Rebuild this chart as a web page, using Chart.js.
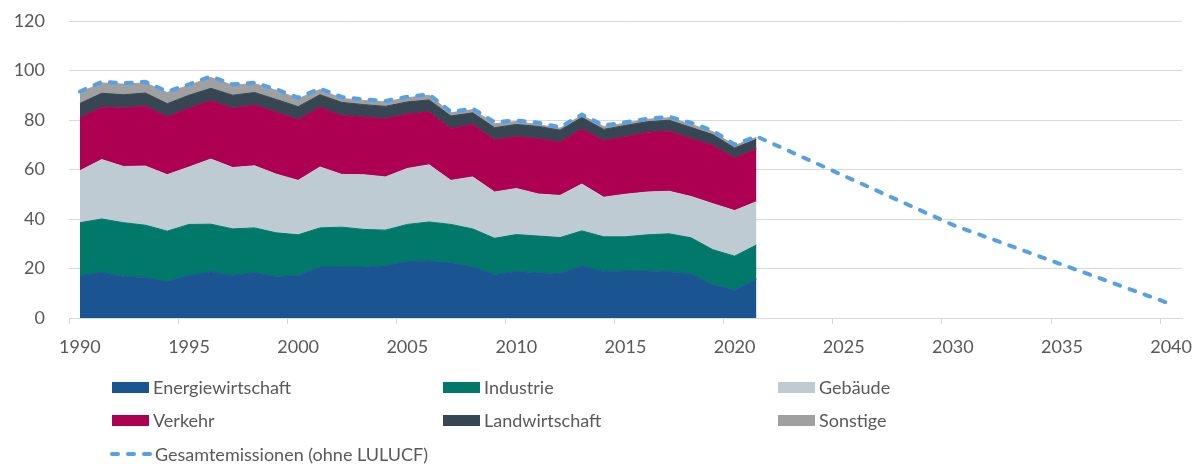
<!DOCTYPE html>
<html lang="de">
<head>
<meta charset="utf-8">
<title>Treibhausgasemissionen</title>
<script src="https://cdn.jsdelivr.net/npm/chart.js@4/dist/chart.umd.min.js"></script>
<style>
  body { margin: 0; background: #fff; font-family: Lato, "Open Sans", sans-serif; }
  #wrap { position: relative; width: 1197px; height: 464px; }
  #legend { position: absolute; left: 0; top: 0; width: 1197px; height: 464px; pointer-events: none; }
  .item { position: absolute; display: flex; align-items: center; height: 24px; color: #595959; font-size: 18px; white-space: nowrap; }
  .box { width: 37px; height: 11px; margin-right: 4px; }
</style>
</head>
<body>
<div id="wrap">
  <canvas id="emChart"></canvas>
  <div id="legend"></div>
</div>
<script>
const years = [];
for (let y = 1990; y <= 2040; y++) years.push(String(y));

// Mio. t CO2-Äquivalente, 1990-2021
const energie = [17.2, 18.4, 16.8, 16.4, 14.8, 17.2, 18.7, 17.3, 18.3, 16.9, 17.1,
  20.6, 20.6, 20.6, 21.1, 22.8, 23.0, 22.2, 20.6, 17.6, 18.8,
  18.3, 17.9, 21.1, 18.8, 19.0, 19.0, 18.7, 17.9, 13.4, 11.2, 15.7];
const industrie = [21.3, 21.6, 21.7, 21.1, 20.3, 20.6, 19.2, 18.7, 18.1, 17.5, 16.5,
  15.8, 16.1, 15.2, 14.4, 15.0, 15.8, 15.6, 15.4, 14.6, 14.9,
  14.8, 14.6, 14.1, 14.0, 13.8, 14.6, 15.3, 14.5, 14.2, 13.8, 13.8];
const gebaeude = [21.0, 24.0, 22.7, 23.9, 22.8, 23.2, 26.3, 24.8, 25.1, 23.7, 22.0,
  24.6, 21.3, 22.1, 21.5, 22.6, 23.1, 17.8, 21.0, 18.7, 18.6,
  17.0, 17.0, 18.9, 16.0, 17.2, 17.3, 17.2, 16.7, 18.6, 18.4, 17.5];
const verkehr = [21.4, 21.2, 23.6, 24.2, 23.4, 23.8, 23.6, 24.0, 24.5, 25.1, 24.6,
  24.2, 23.8, 23.3, 23.5, 22.0, 21.4, 21.0, 21.2, 21.1, 21.0,
  22.3, 21.6, 22.3, 22.9, 23.2, 24.2, 24.3, 23.3, 23.7, 21.2, 21.3];
const landwirtschaft = [5.8, 5.6, 5.4, 5.3, 5.3, 5.2, 5.0, 5.2, 5.1, 5.1, 5.2,
  5.0, 5.3, 5.0, 5.0, 4.9, 4.8, 5.0, 4.7, 4.9, 4.9,
  5.0, 4.8, 4.6, 4.5, 4.6, 4.2, 4.4, 4.6, 4.2, 4.1, 3.9];
const sonstige = [4.4, 4.2, 4.3, 4.1, 4.5, 4.0, 4.4, 4.0, 3.6, 3.7, 3.2,
  2.1, 1.6, 1.7, 1.8, 1.7, 1.9, 1.3, 1.3, 1.6, 1.2,
  0.7, 0.8, 0.9, 1.2, 0.9, 1.0, 1.0, 1.3, 1.2, 1.0, 0.8];
// Gesamtemissionen: Ist-Werte bis 2021, danach Zielpfad (2030, 2040)
const gesamt = [91.5, 95.4, 94.9, 95.4, 91.5, 94.4, 97.6, 94.4, 95.1, 92.4, 89.0,
  92.7, 89.3, 88.3, 87.7, 89.4, 90.4, 83.3, 84.6, 79.1, 79.8,
  78.9, 77.1, 82.2, 77.8, 79.1, 80.5, 81.3, 78.9, 75.7, 70.1, 73.4,
  null, null, null, null, null, null, null, null, 37.6,
  null, null, null, null, null, null, null, null, null, 5.6];

const yTicks = [0, 20, 40, 60, 80, 100, 120];

const sectors = [
  { label: 'Energiewirtschaft', data: energie, color: '#1b5591' },
  { label: 'Industrie', data: industrie, color: '#00796b' },
  { label: 'Gebäude', data: gebaeude, color: '#bfcbd3' },
  { label: 'Verkehr', data: verkehr, color: '#ae0052' },
  { label: 'Landwirtschaft', data: landwirtschaft, color: '#364652' },
  { label: 'Sonstige', data: sonstige, color: '#a0a0a0' }
];
const lineColor = '#57a0e4';

const datasets = [{
  label: 'Gesamtemissionen (ohne LULUCF)',
  data: gesamt,
  stack: 'total',
  borderColor: lineColor,
  borderWidth: 4,
  borderDash: [6, 10],
  borderCapStyle: 'round',
  pointRadius: 0,
  pointHoverRadius: 0,
  spanGaps: true,
  fill: false,
  tension: 0
}];
sectors.forEach((s, i) => {
  datasets.push({
    label: s.label,
    data: s.data,
    stack: 'sektoren',
    backgroundColor: s.color,
    borderColor: s.color,
    borderWidth: 1,
    pointRadius: 0,
    pointHoverRadius: 0,
    fill: i === 0 ? 'origin' : '-1',
    tension: 0
  });
});

const axisFont = { family: 'Lato, "Open Sans", sans-serif', size: 18 };

new Chart(document.getElementById('emChart'), {
  type: 'line',
  data: { labels: years, datasets: datasets },
  options: {
    responsive: true,
    maintainAspectRatio: false,
    animation: false,
    layout: { autoPadding: false, padding: { top: 21, right: 15, left: 0, bottom: 0 } },
    plugins: { legend: { display: false }, tooltip: { enabled: false } },
    scales: {
      x: {
        offset: true,
        afterFit: (scale) => {
          scale.height = 146;
          scale.paddingLeft = 0;
          scale.paddingRight = 0;
        },
        grid: {
          offset: true,
          drawOnChartArea: false,
          drawTicks: true,
          tickLength: 6,
          color: (ctx) => (ctx.index !== undefined && ctx.index % 5 === 0 ? '#d9d9d9' : 'rgba(0,0,0,0)')
        },
        border: { display: true, color: '#d9d9d9', width: 1 },
        ticks: {
          autoSkip: false,
          maxRotation: 0,
          padding: 12,
          color: '#595959',
          font: axisFont,
          callback: function (value) {
            const lbl = this.getLabelForValue(value);
            return Number(lbl) % 5 === 0 ? lbl : '';
          }
        }
      },
      y: {
        stacked: true,
        min: 0,
        max: 120,
        afterFit: (scale) => {
          scale.width = 69;
          scale.paddingTop = 0;
          scale.paddingBottom = 0;
        },
        afterBuildTicks: (scale) => { scale.ticks = yTicks.map(v => ({ value: v })); },
        grid: { color: '#d9d9d9', drawTicks: false },
        border: { display: false },
        ticks: { padding: 24, color: '#595959', font: axisFont }
      }
    }
  }
});

// Legende als HTML im Raster des Originals
const legend = document.getElementById('legend');
const cols = [112, 443, 778];
const rows = [387, 420, 454];
sectors.forEach((s, i) => {
  const el = document.createElement('div');
  el.className = 'item';
  el.style.left = cols[i % 3] + 'px';
  el.style.top = (rows[Math.floor(i / 3)] - 12) + 'px';
  el.innerHTML = '<span class="box" style="background:' + s.color + '"></span>' + s.label;
  legend.appendChild(el);
});
const tot = document.createElement('div');
tot.className = 'item';
tot.style.left = '110px';
tot.style.top = (rows[2] - 12) + 'px';
tot.innerHTML = '<svg width="44" height="10" style="margin-right:1px"><line x1="2" y1="5" x2="41" y2="5" stroke="' +
  lineColor + '" stroke-width="4" stroke-linecap="round" stroke-dasharray="6 10"/></svg>' + datasets[0].label;
legend.appendChild(tot);
</script>
</body>
</html>
